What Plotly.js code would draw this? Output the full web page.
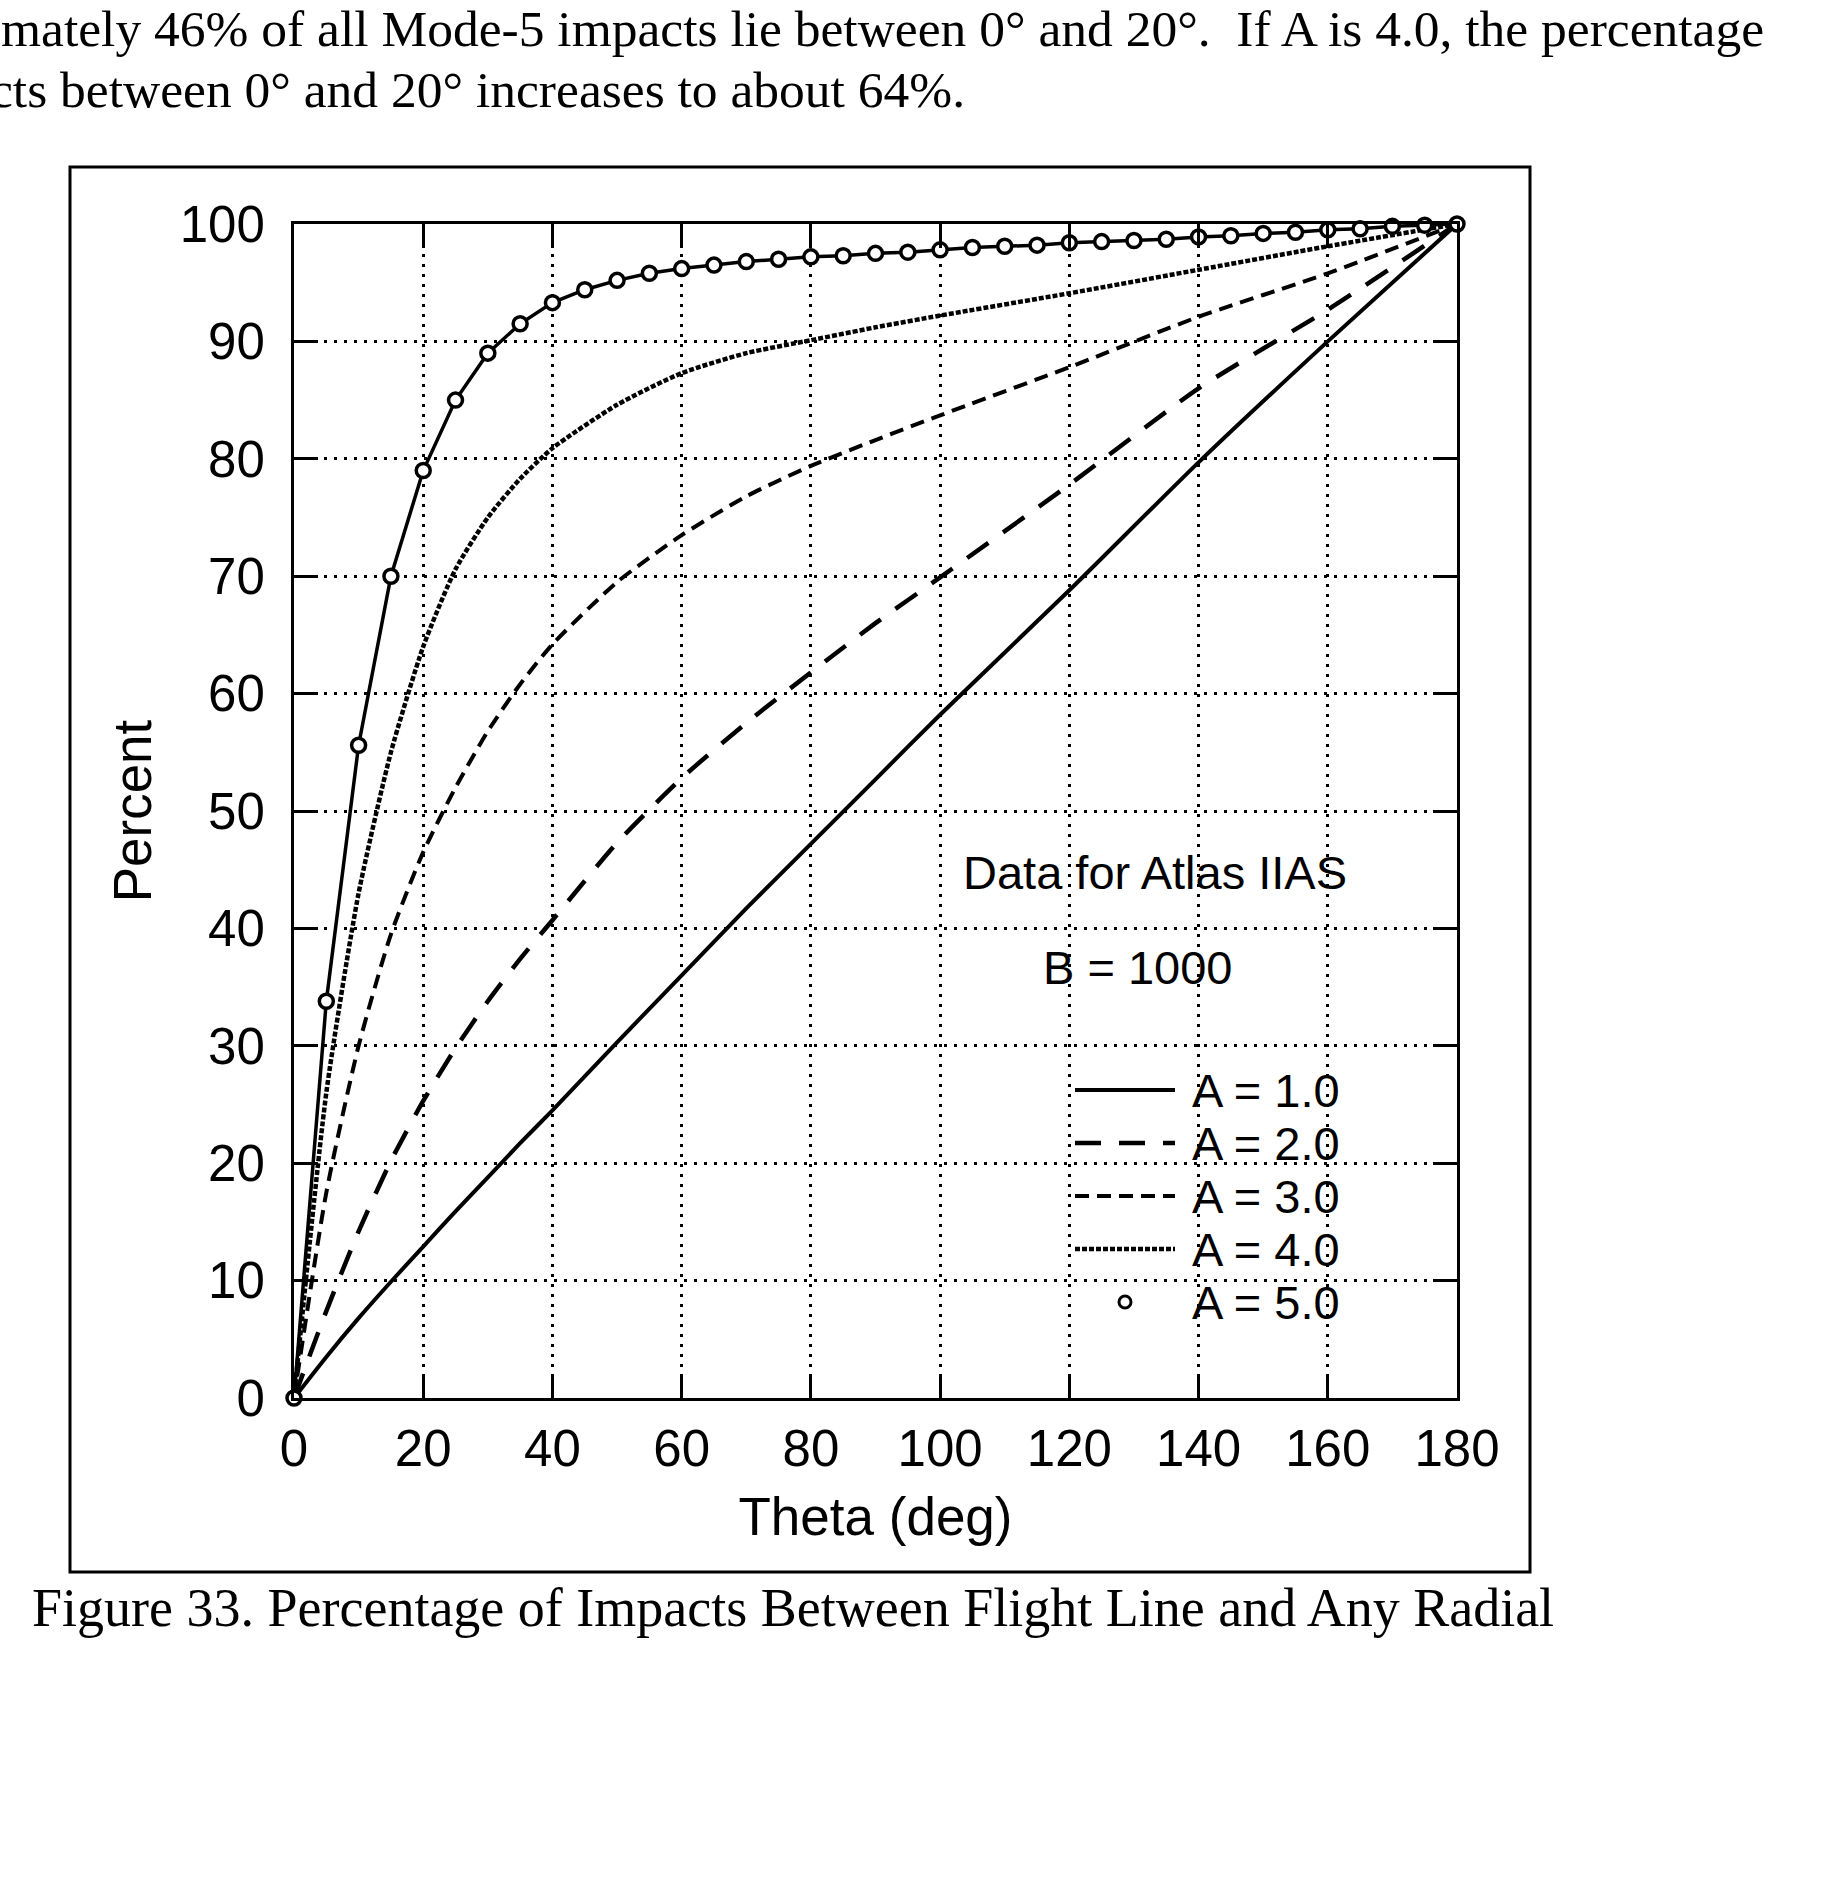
<!DOCTYPE html>
<html>
<head>
<meta charset="utf-8">
<script src="https://cdn.plot.ly/plotly-3.0.1.min.js"></script>
<style>
  html, body { margin: 0; padding: 0; background: #fff; }
  #chart { width: 1837px; height: 1882px; }
</style>
</head>
<body>
<div id="chart"></div>
<script>
// values (theta in deg, percent of impacts)
let theta = [0, 5, 10, 15, 20, 25, 30, 35, 40, 50, 60, 70, 80, 90, 100, 120, 140, 160, 180];

let pctA1 = [0, 3.5, 6.8, 9.9, 12.9, 15.9, 18.8, 21.7, 24.5, 30.3, 36.0, 41.7, 47.2, 52.7, 58.2, 68.8, 79.7, 90.0, 100];
let pctA2 = [0, 7.4, 14.2, 20.2, 25.3, 29.8, 33.8, 37.4, 40.7, 47.3, 52.8, 57.5, 61.8, 66.0, 69.9, 77.8, 86.0, 92.7, 100];
let pctA3 = [0, 17.5, 30.0, 39.5, 46.5, 52.0, 56.8, 60.8, 64.2, 69.5, 73.5, 76.8, 79.4, 81.6, 83.7, 87.8, 92.1, 95.8, 100];
let pctA4 = [0, 26.0, 43.0, 55.0, 64.0, 70.6, 75.0, 78.3, 80.9, 84.6, 87.3, 89.0, 90.1, 91.2, 92.2, 94.1, 96.1, 98.1, 100];

let thetaA5 = [0, 5, 10, 15, 20, 25, 30, 35, 40, 45, 50, 55, 60, 65, 70, 75, 80, 85, 90,
               95, 100, 105, 110, 115, 120, 125, 130, 135, 140, 145, 150, 155, 160, 165, 170, 175, 180];
let pctA5 = [0, 33.8, 55.6, 70.0, 79.0, 85.0, 89.0, 91.5, 93.3, 94.4, 95.2, 95.8, 96.2, 96.5, 96.8, 97.0, 97.2, 97.3, 97.5,
             97.6, 97.8, 98.0, 98.1, 98.2, 98.4, 98.5, 98.6, 98.7, 98.9, 99.0, 99.2, 99.3, 99.5, 99.6, 99.8, 99.9, 100];

let seriesLabels = ['A = 1.0', 'A = 2.0', 'A = 3.0', 'A = 4.0', 'A = 5.0'];
let xTicks = [0, 20, 40, 60, 80, 100, 120, 140, 160, 180];
let yTicks = [0, 10, 20, 30, 40, 50, 60, 70, 80, 90, 100];

const W = 1837, H = 1882;
const PLOT = {l: 294, r: 1457, t: 224, b: 1398};
const SANS = 'Liberation Sans, Arial, Helvetica, sans-serif';
const SERIF = 'Liberation Serif, Times New Roman, serif';

// page pixel -> paper coords
function px(x) { return (x - PLOT.l) / (PLOT.r - PLOT.l); }
function py(y) { return (PLOT.b - y) / (PLOT.b - PLOT.t); }

function label(x, y, text, font, xanchor='center') {
    return {xref: 'paper', yref: 'paper', x: px(x), y: py(y),
            xanchor: xanchor, yanchor: 'middle', showarrow: false,
            text: text, font: font};
}

let styles = [
    {dash: 'solid', width: 4},
    {dash: '26px,18px', width: 4.5},
    {dash: '14px,8px', width: 4},
    {dash: '5px,2px', width: 4.5},
    {dash: 'solid', width: 3.5},
];

let traces = [pctA1, pctA2, pctA3, pctA4].map((ys, i) => ({
    x: theta,
    y: ys,
    name: seriesLabels[i],
    type: 'scatter',
    mode: 'lines',
    line: {color: '#000', width: styles[i].width, dash: styles[i].dash, shape: 'spline', smoothing: 0.6},
    showlegend: false,
}));

traces.push({
    x: thetaA5,
    y: pctA5,
    name: seriesLabels[4],
    type: 'scatter',
    mode: 'lines+markers',
    line: {color: '#000', width: styles[4].width},
    marker: {symbol: 'circle', size: 14, color: '#fff', line: {color: '#000', width: 3.5}},
    cliponaxis: false,
    showlegend: false,
});

// hand drawn key, like the original figure
let shapes = [];
let annotations = [];
let keyRows = [1090, 1143, 1196, 1249, 1302];
let keyFont = {family: SANS, size: 47, color: '#000'};

for (let i = 0; i < seriesLabels.length; i++) {
    let y = py(keyRows[i]);
    if (i < 4) {
        shapes.push({
            type: 'line', xref: 'paper', yref: 'paper',
            x0: px(1075), x1: px(1175), y0: y, y1: y,
            line: {color: '#000', width: styles[i].width, dash: styles[i].dash},
        });
    } else {
        shapes.push({
            type: 'circle', xref: 'paper', yref: 'paper',
            xsizemode: 'pixel', ysizemode: 'pixel',
            xanchor: px(1125), yanchor: y,
            x0: -6, x1: 6, y0: -6, y1: 6,
            fillcolor: '#fff', line: {color: '#000', width: 3},
        });
    }
    annotations.push(label(1190, keyRows[i], seriesLabels[i], keyFont, 'left'));
}

// outer frame round the figure
shapes.push({
    type: 'rect', xref: 'paper', yref: 'paper',
    x0: px(70), x1: px(1530), y0: py(167), y1: py(1572),
    line: {color: '#000', width: 3},
});

let serifFont = {family: SERIF, size: 54, color: '#000'};
let bodyFont = {family: SERIF, size: 51.5, color: '#000'};

annotations.push(
    label(1155, 873, 'Data for Atlas IIAS', keyFont),
    label(1137, 967, 'B = 1000', keyFont),
    label(793, 1608, 'Figure 33. Percentage of Impacts Between Flight Line and Any Radial', serifFont),
    label(1766, 28, 'mately 46% of all Mode-5 impacts lie between 0\u00b0 and 20\u00b0.  If A is 4.0, the percentage', bodyFont, 'right'),
    label(967, 89, 'cts between 0\u00b0 and 20\u00b0 increases to about 64%.', bodyFont, 'right'),
);

let axisCommon = {
    showline: true, linecolor: '#000', linewidth: 3, mirror: 'allticks',
    ticks: 'inside', ticklen: 24, tickwidth: 3, tickcolor: '#000',
    showgrid: true, gridcolor: '#000', gridwidth: 3, griddash: '3px,7px',
    zeroline: false, fixedrange: true,
    tickfont: {family: SANS, size: 51, color: '#000'},
};

let layout = {
    width: W, height: H,
    margin: {l: PLOT.l, r: W - PLOT.r, t: PLOT.t, b: H - PLOT.b},
    paper_bgcolor: '#fff', plot_bgcolor: '#fff',
    showlegend: false,
    xaxis: Object.assign({}, axisCommon, {
        range: [0, 180], tickmode: 'array', tickvals: xTicks, ticklabelstandoff: 4,
        title: {text: 'Theta (deg)', font: {family: SANS, size: 53, color: '#000'}, standoff: 22},
    }),
    yaxis: Object.assign({}, axisCommon, {
        range: [0, 100], tickmode: 'array', tickvals: yTicks, ticklabelstandoff: 16,
        title: {text: 'Percent', font: {family: SANS, size: 53, color: '#000'}, standoff: 12},
    }),
    shapes: shapes,
    annotations: annotations,
};

Plotly.newPlot('chart', traces, layout, {displayModeBar: false, staticPlot: true});
</script>
</body>
</html>
